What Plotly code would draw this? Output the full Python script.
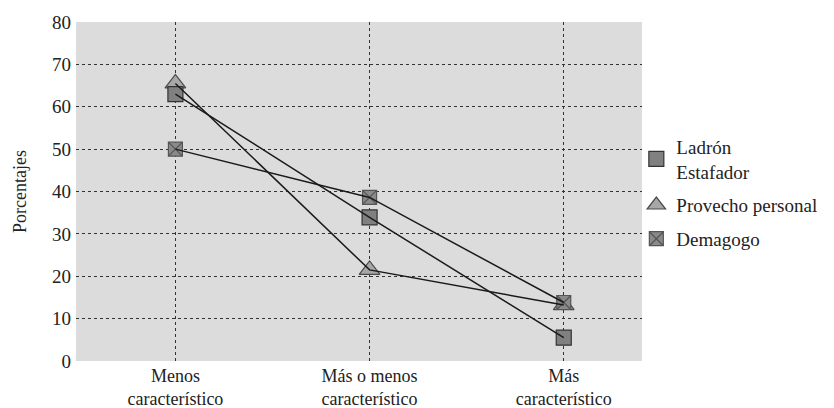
import plotly.graph_objects as go

categorias = ["Menos<br>característico", "Más o menos<br>característico", "Más<br>característico"]
ladron = [63.0, 33.9, 5.5]
provecho = [65.5, 21.5, 13.2]
demagogo = [50.0, 38.6, 13.8]
titulo_y = "Porcentajes"

xpos = list(range(len(categorias)))
FONT = "Liberation Serif"
TXT = "#222222"

fig = go.Figure()

series = [
    ("Provecho personal", provecho, "triangle-up", 18, "#a7a7a7", "#4a4a4a", 2, "g2"),
    ("Ladrón<br>Estafador", ladron, "square", 15, "#808080", "#333333", 1, "g1"),
    ("Demagogo", demagogo, "square-x", 14, "#8a8a8a", "#555555", 3, "g3"),
]

for name, vals, sym, size, fill, edge, rank, grp in series:
    fig.add_trace(go.Scatter(
        x=xpos, y=vals, mode="markers", name=name,
        legendrank=rank, legendgroup=grp,
        marker=dict(symbol=sym, size=size, color=fill,
                    line=dict(color=edge, width=1.2)),
        cliponaxis=False,
    ))

for name, vals, sym, size, fill, edge, rank, grp in series:
    fig.add_trace(go.Scatter(
        x=xpos, y=vals, mode="lines", showlegend=False,
        line=dict(color="#1a1a1a", width=1.5),
        hoverinfo="skip",
    ))

fig.update_layout(
    width=826, height=400,
    margin=dict(l=68, r=186, t=14, b=47),
    paper_bgcolor="white",
    plot_bgcolor="#dcdcdd",
    font=dict(family=FONT, size=19, color=TXT),
    showlegend=True,
    legend=dict(x=0.99, xanchor="left", y=0.688, yanchor="top",
                font=dict(family=FONT, size=19, color=TXT),
                tracegroupgap=6, traceorder="grouped",
                bgcolor="rgba(0,0,0,0)"),
)

fig.add_annotation(
    text=titulo_y, xref="paper", yref="paper", x=-0.1, y=0.5,
    textangle=-90, showarrow=False, xanchor="center", yanchor="middle",
    font=dict(family=FONT, size=18, color=TXT),
)

fig.update_xaxes(
    range=[-0.512, 2.403], automargin=False,
    tickmode="array", tickvals=xpos, ticktext=categorias,
    showgrid=True, gridcolor="#333333", griddash="dot", gridwidth=1,
    zeroline=False, showline=False, ticks="", ticklabelstandoff=2,
    tickfont=dict(family=FONT, size=18, color=TXT),
)

fig.update_yaxes(
    range=[0, 80], dtick=10, tick0=0, automargin=False,
    showgrid=True, gridcolor="#333333", griddash="dot", gridwidth=1,
    zeroline=False, showline=False, ticks="", ticklabelstandoff=4,
    tickfont=dict(family=FONT, size=19, color=TXT),
)

fig.write_html("out.html")
